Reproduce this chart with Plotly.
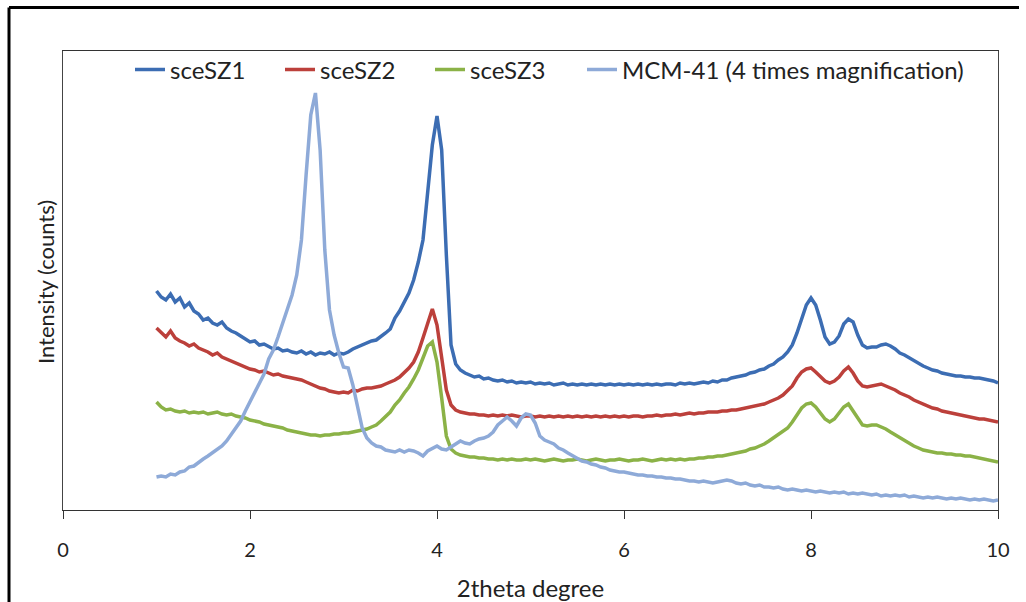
import plotly.graph_objects as go

# 2theta sampling grid (degrees), 1.00 .. 10.00 in 0.05 steps
two_theta = [round(1 + 0.05 * i, 2) for i in range(181)]

# Intensities (arbitrary counts); rows = 1.00-1.95, 2.00-2.95, ...
sceSZ1 = [
    219, 213, 210, 216, 208, 212, 203, 207, 199, 196, 190, 192, 187, 185, 188, 182, 179, 177, 174, 171,
    168, 169, 165, 166, 163, 161, 162, 159, 160, 158, 157, 159, 156, 158, 155, 157, 156, 158, 155, 157,
    156, 158, 161, 163, 165, 167, 169, 170, 173, 177, 181, 192, 199, 208, 217, 230, 248, 270, 315, 365,
    394, 360, 255, 165, 146, 140, 137, 135, 133, 134, 131, 132, 130, 129, 130, 128, 129, 127, 128, 127,
    128, 126, 127, 126, 127, 125, 126, 127, 125, 126, 125, 126, 125, 126, 125, 126, 125, 126, 125, 126,
    125, 126, 125, 126, 125, 126, 125, 126, 125, 126, 126, 125, 127, 126, 127, 126, 127, 128, 127, 129,
    128, 130, 130, 132, 133, 134, 135, 137, 138, 140, 141, 144, 146, 150, 153, 158, 165, 177, 190, 205,
    212, 205, 190, 173, 166, 168, 174, 186, 191, 188, 175, 165, 162, 163, 163, 165, 166, 164, 161, 157,
    155, 152, 149, 146, 144, 142, 140, 139, 137, 136, 135, 134, 134, 133, 133, 132, 132, 131, 130, 129,
    127,
]

sceSZ2 = [
    182, 177, 173, 179, 172, 169, 167, 164, 166, 162, 160, 158, 155, 157, 153, 151, 149, 147, 145, 143,
    141, 140, 138, 139, 137, 135, 136, 134, 133, 132, 131, 130, 128, 126, 124, 122, 121, 119, 118, 117,
    118, 117, 120, 119, 121, 122, 122, 123, 124, 126, 128, 130, 133, 137, 142, 148, 158, 172, 188, 201,
    185, 153, 120, 105, 100, 98, 97, 96, 96, 95, 95, 94, 95, 94, 95, 94, 95, 94, 93, 94,
    94, 93, 94, 93, 94, 93, 94, 93, 94, 93, 94, 93, 94, 93, 94, 93, 94, 93, 94, 93,
    94, 93, 94, 94, 93, 94, 94, 95, 94, 95, 95, 96, 95, 96, 97, 96, 97, 97, 98, 98,
    98, 99, 99, 100, 100, 101, 102, 103, 104, 105, 106, 108, 110, 112, 115, 119, 124, 132, 138, 141,
    142, 138, 133, 129, 127, 129, 133, 139, 143, 137, 129, 124, 123, 124, 125, 126, 124, 122, 120, 117,
    115, 113, 110, 108, 106, 104, 102, 101, 99, 98, 97, 96, 95, 94, 93, 92, 91, 91, 90, 89,
    88,
]

sceSZ3 = [
    108, 103, 100, 101, 99, 98, 99, 97, 98, 97, 98, 96, 97, 98, 96, 95, 96, 94, 93, 92,
    90, 89, 88, 86, 85, 84, 83, 82, 80, 79, 78, 77, 76, 75, 75, 74, 75, 75, 76, 76,
    77, 77, 78, 79, 80, 81, 83, 85, 89, 93, 98, 105, 110, 117, 123, 131, 140, 152, 164, 168,
    148, 112, 74, 61, 57, 55, 54, 53, 53, 52, 52, 51, 51, 50, 51, 50, 51, 50, 50, 51,
    50, 51, 50, 49, 50, 51, 50, 49, 50, 50, 51, 50, 49, 50, 51, 50, 49, 50, 50, 51,
    50, 49, 50, 50, 51, 50, 49, 50, 51, 50, 51, 50, 51, 50, 51, 51, 52, 52, 53, 53,
    54, 54, 55, 56, 57, 58, 59, 61, 62, 64, 66, 69, 72, 75, 78, 82, 88, 95, 102, 106,
    107, 103, 97, 91, 88, 91, 97, 103, 106, 99, 91, 85, 84, 85, 85, 83, 81, 78, 75, 72,
    69, 66, 64, 62, 60, 59, 58, 57, 57, 56, 56, 55, 55, 54, 54, 53, 52, 51, 50, 49,
    48,
]

mcm41_x4 = [
    33, 34, 33, 36, 35, 38, 39, 43, 44, 48, 51, 54, 57, 60, 64, 69, 76, 83, 89, 99,
    108, 118, 127, 136, 151, 160, 173, 187, 200, 215, 235, 270, 335, 395, 417, 360, 260, 200, 175, 157,
    143, 142, 125, 105, 82, 72, 67, 64, 63, 60, 59, 58, 60, 58, 60, 59, 57, 54, 59, 62,
    64, 61, 60, 63, 66, 69, 67, 66, 69, 71, 72, 74, 78, 85, 89, 93, 89, 84, 92, 96,
    95, 87, 74, 70, 68, 66, 62, 60, 57, 54, 52, 49, 48, 46, 45, 43, 42, 40, 39, 38,
    38, 37, 36, 35, 35, 34, 34, 33, 33, 32, 32, 31, 31, 30, 29, 29, 28, 29, 28, 27,
    28, 29, 30, 29, 27, 26, 27, 25, 24, 25, 23, 23, 22, 23, 21, 20, 21, 20, 19, 20,
    19, 18, 19, 18, 17, 18, 17, 18, 16, 17, 16, 17, 16, 15, 16, 14, 15, 14, 15, 14,
    15, 13, 14, 13, 12, 13, 12, 13, 12, 11, 12, 11, 12, 11, 10, 11, 10, 11, 10, 9,
    10,
]

series_names = ["sceSZ1", "sceSZ2", "sceSZ3", "MCM-41 (4 times magnification)"]
series_values = [sceSZ1, sceSZ2, sceSZ3, mcm41_x4]
series_colors = ["#3C6DB3", "#BC403B", "#8BB247", "#8EAAD8"]
series_legend = ["legend", "legend", "legend", "legend2"]

x_ticks = [0, 2, 4, 6, 8, 10]

FONT = "Lato, 'Open Sans', sans-serif"

fig = go.Figure()
for name, vals, col, lg in zip(series_names, series_values, series_colors, series_legend):
    fig.add_trace(go.Scatter(
        x=two_theta, y=vals, mode="lines", name=name, legend=lg,
        line=dict(color=col, width=3.5),
    ))

W, H = 1026, 602
L, R, T, B = 63, 998, 51, 510


def px(xp):
    return (xp - L) / (R - L)


def py(yp):
    return (B - yp) / (B - T)


legend_common = dict(
    orientation="h", xanchor="left", y=py(70), yanchor="middle",
    font=dict(size=24, color="#222"), bgcolor="rgba(0,0,0,0)", tracegroupgap=0,
)

fig.update_layout(
    width=W, height=H,
    margin=dict(l=L, r=W - R, t=T, b=H - B, autoexpand=False),
    paper_bgcolor="white", plot_bgcolor="white",
    font=dict(family=FONT, size=20, color="#222"),
    showlegend=True,
    legend=dict(x=px(130), entrywidth=105, entrywidthmode="pixels", **legend_common),
    legend2=dict(x=px(582), **legend_common),
    xaxis=dict(
        range=[0, 10], tickvals=x_ticks, ticks="outside", ticklen=8, tickcolor="#333",
        showline=True, linecolor="#333", linewidth=1, mirror=True,
        showgrid=False, zeroline=False, ticklabelstandoff=14, automargin=False,
        tickfont=dict(size=20, color="#222"),
        title=dict(text="2theta degree", font=dict(size=24, color="#222"), standoff=20),
    ),
    yaxis=dict(
        range=[0, 459], showticklabels=False, ticks="", automargin=False,
        showline=True, linecolor="#444", linewidth=1, mirror=True,
        showgrid=False, zeroline=False,
    ),
    annotations=[dict(
        text="Intensity (counts)", textangle=-90, xref="paper", yref="paper",
        x=px(45), y=py(282), xanchor="center", yanchor="middle", showarrow=False,
        font=dict(size=22, color="#222"),
    )],
    shapes=[
        dict(type="line", xref="paper", yref="paper", x0=px(9), x1=px(1019), y0=py(7.5), y1=py(7.5),
             line=dict(color="black", width=3)),
        dict(type="line", xref="paper", yref="paper", x0=px(9), x1=px(9), y0=py(7.5), y1=py(603),
             line=dict(color="black", width=3)),
    ],
)

fig.write_html("out.html")
